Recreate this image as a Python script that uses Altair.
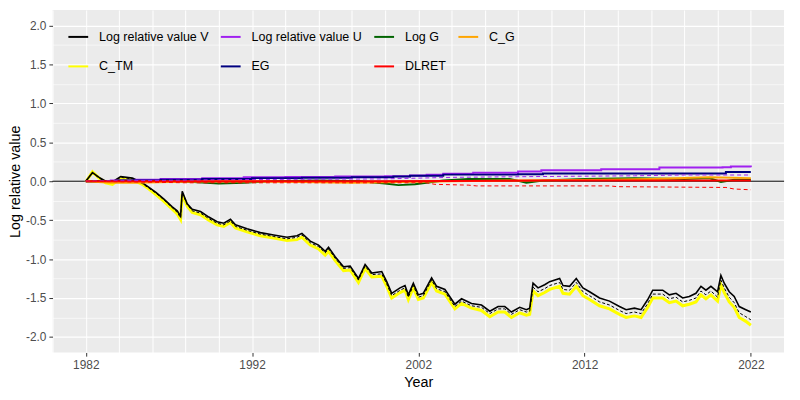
import altair as alt
import pandas as pd

# ---------------- data ----------------
years_main = [1982.0, 1982.4, 1982.8, 1983.2, 1983.6, 1984.1, 1984.8, 1985.4, 1985.8, 1986.2,
              1986.7, 1987.2, 1987.5, 1987.7, 1987.8, 1988.1, 1988.4, 1988.9, 1989.4, 1989.9,
              1990.3, 1990.7, 1991.0, 1991.7, 1992.5, 1993.3, 1994.1, 1994.7, 1995.0, 1995.5,
              1996.0, 1996.4, 1996.6, 1997.0, 1997.5, 1997.9, 1998.4, 1998.8, 1999.2, 1999.8,
              2000.1, 2000.4, 2000.9, 2001.2, 2001.4, 2001.7, 2002.0, 2002.3, 2002.8, 2003.1,
              2003.6, 2004.2, 2004.6, 2005.2, 2005.8, 2006.3, 2006.8, 2007.2, 2007.6, 2008.1,
              2008.5, 2008.7, 2008.9, 2009.2, 2009.6, 2009.9, 2010.5, 2010.7, 2011.1, 2011.5,
              2011.9, 2012.3, 2012.9, 2013.5, 2014.1, 2014.5, 2015.0, 2015.4, 2015.8, 2016.1,
              2016.7, 2017.1, 2017.5, 2017.9, 2018.3, 2018.7, 2019.0, 2019.3, 2019.6, 2020.0,
              2020.2, 2020.4, 2020.7, 2021.0, 2021.3, 2021.7, 2022.0]

log_v = [0.00, 0.11, 0.05, 0.00, -0.01, 0.06, 0.04, -0.02, -0.08, -0.14,
         -0.23, -0.33, -0.38, -0.45, -0.13, -0.29, -0.36, -0.39, -0.46, -0.52,
         -0.54, -0.49, -0.56, -0.61, -0.66, -0.69, -0.72, -0.70, -0.67, -0.77,
         -0.82, -0.90, -0.85, -0.97, -1.10, -1.09, -1.25, -1.07, -1.18, -1.16,
         -1.29, -1.44, -1.37, -1.34, -1.46, -1.31, -1.46, -1.44, -1.24, -1.35,
         -1.39, -1.58, -1.51, -1.57, -1.59, -1.67, -1.61, -1.61, -1.68, -1.62,
         -1.65, -1.63, -1.31, -1.37, -1.33, -1.29, -1.25, -1.34, -1.35, -1.25,
         -1.37, -1.42, -1.50, -1.54, -1.61, -1.65, -1.63, -1.65, -1.52, -1.40,
         -1.40, -1.46, -1.44, -1.50, -1.48, -1.44, -1.35, -1.40, -1.35, -1.42,
         -1.21, -1.31, -1.42, -1.48, -1.61, -1.65, -1.68]

log_v_alt = [0.00, 0.11, 0.04, -0.01, -0.02, 0.05, 0.03, -0.03, -0.09, -0.15,
             -0.24, -0.34, -0.40, -0.47, -0.15, -0.30, -0.38, -0.41, -0.48, -0.54,
             -0.56, -0.51, -0.58, -0.63, -0.68, -0.71, -0.74, -0.72, -0.69, -0.79,
             -0.84, -0.92, -0.87, -0.99, -1.12, -1.11, -1.27, -1.09, -1.20, -1.19,
             -1.32, -1.47, -1.40, -1.37, -1.49, -1.34, -1.49, -1.47, -1.27, -1.38,
             -1.42, -1.61, -1.54, -1.60, -1.62, -1.70, -1.64, -1.64, -1.71, -1.65,
             -1.68, -1.67, -1.36, -1.42, -1.38, -1.34, -1.30, -1.39, -1.40, -1.30,
             -1.42, -1.47, -1.55, -1.59, -1.66, -1.70, -1.68, -1.70, -1.57, -1.45,
             -1.45, -1.51, -1.49, -1.55, -1.53, -1.50, -1.41, -1.46, -1.41, -1.49,
             -1.27, -1.37, -1.49, -1.56, -1.69, -1.74, -1.78]

c_tm = [-0.01, 0.12, 0.04, -0.02, -0.04, 0.04, 0.02, -0.04, -0.10, -0.17,
        -0.26, -0.36, -0.42, -0.49, -0.17, -0.32, -0.40, -0.43, -0.50, -0.56,
        -0.58, -0.53, -0.60, -0.65, -0.70, -0.73, -0.76, -0.75, -0.72, -0.82,
        -0.87, -0.95, -0.90, -1.02, -1.15, -1.14, -1.30, -1.12, -1.23, -1.22,
        -1.35, -1.50, -1.43, -1.40, -1.52, -1.37, -1.52, -1.50, -1.30, -1.41,
        -1.45, -1.64, -1.57, -1.63, -1.66, -1.74, -1.68, -1.68, -1.75, -1.69,
        -1.72, -1.71, -1.41, -1.47, -1.43, -1.39, -1.35, -1.44, -1.45, -1.35,
        -1.47, -1.52, -1.60, -1.64, -1.71, -1.75, -1.73, -1.75, -1.62, -1.50,
        -1.50, -1.56, -1.54, -1.60, -1.58, -1.55, -1.46, -1.51, -1.46, -1.54,
        -1.33, -1.43, -1.55, -1.62, -1.75, -1.80, -1.85]

u_years = [1982.0, 1983.5, 1985.0, 1986.5, 1989.0, 1991.5, 1994.0, 1997.0, 2000.0, 2001.5,
           2002.5, 2003.5, 2005.3, 2008.0, 2009.4, 2013.0, 2016.5, 2020.3, 2020.8, 2022.0]
log_u = [0.00, 0.01, 0.02, 0.03, 0.04, 0.05, 0.055, 0.06, 0.065, 0.075,
         0.085, 0.095, 0.11, 0.125, 0.14, 0.155, 0.175, 0.18, 0.19, 0.18]

eg_years = [1982.0, 1984.0, 1986.5, 1989.0, 1992.0, 1995.0, 1998.0, 2000.5, 2001.5, 2003.5,
            2008.0, 2009.5, 2020.2, 2020.5, 2022.0]
eg = [0.00, 0.01, 0.02, 0.03, 0.04, 0.045, 0.05, 0.06, 0.07, 0.085,
      0.09, 0.10, 0.10, 0.12, 0.12]

g_years = [1982.0, 1984.0, 1986.0, 1988.5, 1990.0, 1991.5, 1993.0, 1996.0, 1998.5, 2000.0,
           2000.8, 2001.8, 2002.5, 2003.5, 2005.0, 2007.5, 2008.5, 2009.5, 2012.0, 2015.0,
           2018.0, 2019.5, 2020.2, 2021.0, 2022.0]
log_g = [0.00, -0.01, 0.00, -0.01, -0.03, -0.02, 0.00, 0.01, 0.00, -0.03,
         -0.05, -0.04, -0.02, 0.01, 0.03, 0.03, -0.02, 0.01, 0.03, 0.04,
         0.03, 0.04, -0.01, 0.02, 0.02]

cg_years = [1982.0, 1983.5, 1985.0, 1987.0, 1990.0, 1995.0, 1998.0, 2001.0, 2004.0, 2008.0,
            2013.0, 2016.0, 2019.5, 2022.0]
c_g = [0.00, -0.02, -0.02, -0.01, 0.00, -0.01, -0.02, -0.01, 0.00, 0.01,
       0.02, 0.03, 0.05, 0.04]

dl_years = [1982.0, 1990.0, 2000.0, 2010.0, 2022.0]
dlret = [0.00, 0.00, 0.00, 0.01, 0.01]

dl_alt_years = [1982.0, 1985.0, 1988.0, 2002.5, 2003.0, 2005.0, 2005.5, 2013.5, 2014.0, 2020.5,
                2021.0, 2022.0]
dlret_alt = [0.00, -0.01, -0.02, -0.02, -0.04, -0.05, -0.06, -0.06, -0.07, -0.08,
             -0.10, -0.11]

u_alt_years = [1982.0, 1990.0, 2000.0, 2004.0, 2009.0, 2015.0, 2018.0, 2022.0]
log_u_alt = [0.00, 0.02, 0.03, 0.05, 0.06, 0.07, 0.08, 0.08]

# legend entries (listed column by column: 4 columns x 2 rows)
series_names = ["Log relative value V", "C_TM", "Log relative value U", "EG",
                "Log G", "DLRET", "C_G"]
series_colors = ["#000000", "#FFFF00", "#A020F0", "#000080",
                 "#006400", "#FF0000", "#FFA500"]

x_grid = list(range(1980, 2025, 2))
y_grid = [v / 4 for v in range(-8, 9)]

# ---------------- frames ----------------
def frame(xs, ys, name):
    return pd.DataFrame({"year": xs, "value": ys, "series": name})

df_v = frame(years_main, log_v, "Log relative value V")
df_ctm = frame(years_main, c_tm, "C_TM")
df_valt = frame(years_main, log_v_alt, "V alt")
df_near = pd.concat([
    frame(u_years, log_u, "Log relative value U"),
    frame(eg_years, eg, "EG"),
])
df_near2 = pd.concat([
    frame(g_years, log_g, "Log G"),
    frame(cg_years, c_g, "C_G"),
    frame(dl_years, dlret, "DLRET"),
])
df_dl_alt = frame(dl_alt_years, dlret_alt, "DLRET alt")
df_u_alt = frame(u_alt_years, log_u_alt, "U alt")

FONT = "Liberation Sans"

x_enc = alt.X(
    "year:Q",
    title="Year",
    scale=alt.Scale(domain=[1980, 2024], nice=False, zero=False),
    axis=alt.Axis(
        values=x_grid,
        format="d",
        labelExpr="(datum.value - 1982) % 10 == 0 ? datum.label : ''",
        labelOverlap=False,
        tickOpacity={"condition": {"test": "(datum.value - 1982) % 10 == 0", "value": 1}, "value": 0},
        gridWidth=1.0,
        labelPadding=3,
        titleY=30,
        titleBaseline="middle",
    ),
)
y_enc = alt.Y(
    "value:Q",
    title="Log relative value",
    scale=alt.Scale(domain=[-2.2, 2.2], nice=False, zero=False),
    axis=alt.Axis(
        values=y_grid,
        labelExpr="abs(datum.value % 0.5) < 0.001 ? (datum.value < 0 ? '-' : '') + format(abs(datum.value), '.1f') : ''",
        labelOverlap=False,
        tickOpacity={"condition": {"test": "abs(datum.value % 0.5) < 0.001", "value": 1}, "value": 0},
        gridWidth={"condition": {"test": "abs(datum.value % 0.5) < 0.001", "value": 1.2}, "value": 0.6},
        labelPadding=3,
        titleX=-37,
        titleY=173,
        titleBaseline="middle",
        titleAngle=270,
    ),
)

color_scale = alt.Scale(domain=series_names, range=series_colors)
legend = alt.Legend(
    title=None,
    orient="none",
    legendX=15,
    legendY=16,
    columns=4,
    symbolType="stroke",
    symbolSize=400,
    symbolStrokeWidth=2,
    labelFontSize=12.6,
    labelFont=FONT,
    labelColor="#000000",
    labelOffset=10,
    columnPadding=8,
    rowPadding=12,
    padding=0,
)
color_enc = alt.Color("series:N", scale=color_scale, legend=legend, sort=series_names)

hline = alt.Chart(pd.DataFrame({"value": [0.0]})).mark_rule(color="black", strokeWidth=1).encode(
    y=y_enc
)

base_near = alt.Chart(df_near).mark_line(strokeWidth=2, interpolate="step-after").encode(
    x=x_enc, y=y_enc, color=color_enc, detail="series:N"
)
base_near2 = alt.Chart(df_near2).mark_line(strokeWidth=2).encode(
    x=x_enc, y=y_enc, color=color_enc, detail="series:N"
)
u_alt_line = alt.Chart(df_u_alt).mark_line(strokeWidth=1, strokeDash=[4, 3], color="#A020F0").encode(
    x=x_enc, y=y_enc
)
dl_alt_line = alt.Chart(df_dl_alt).mark_line(strokeWidth=1, strokeDash=[4, 3], color="#FF0000").encode(
    x=x_enc, y=y_enc
)
ctm_line = alt.Chart(df_ctm).mark_line(strokeWidth=3).encode(
    x=x_enc, y=y_enc, color=color_enc
)
valt_line = alt.Chart(df_valt).mark_line(strokeWidth=1, strokeDash=[3, 2], color="#000000").encode(
    x=x_enc, y=y_enc
)
v_line = alt.Chart(df_v).mark_line(strokeWidth=1.6).encode(
    x=x_enc, y=y_enc, color=color_enc
)

chart = alt.layer(
    hline, ctm_line, valt_line, v_line, base_near, base_near2, u_alt_line, dl_alt_line
).properties(
    width=739,
    height=346,
    autosize=alt.AutoSizeParams(type="none"),
    padding={"left": 45, "top": 0, "right": 8, "bottom": 46},
    background="#FFFFFF",
).configure_view(
    fill="#EBEBEB", stroke=None
).configure_axis(
    domain=False,
    tickColor="#333333",
    tickSize=3.7,
    tickWidth=1,
    labelColor="#4D4D4D",
    labelFont=FONT,
    labelFontSize=12,
    titleFont=FONT,
    titleFontSize=14.5,
    titleFontWeight="normal",
    titleColor="#000000",
    gridColor="#FFFFFF",
)

chart.save("out.html", embed_options={"renderer": "svg", "actions": False})
